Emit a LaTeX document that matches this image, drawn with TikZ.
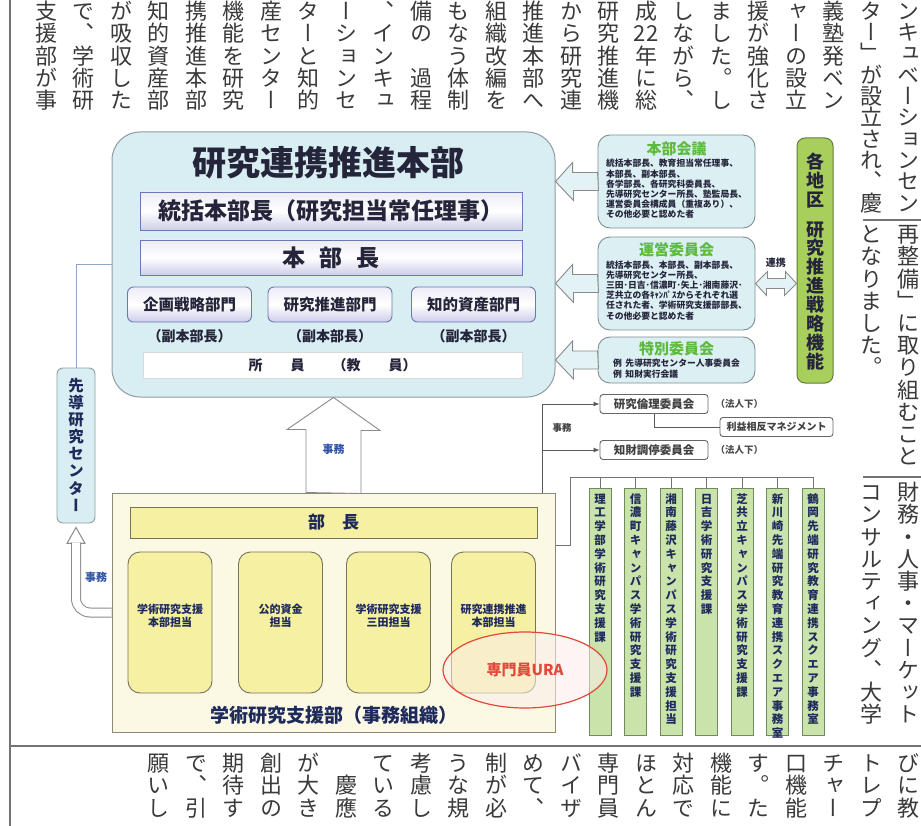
\documentclass[tikz,border=0pt]{standalone}
\usepackage{fontspec}
\setmainfont{Noto Sans CJK JP}
\newfontfamily\tatefont[RawFeature={+vert}]{Noto Sans CJK JP}
\usetikzlibrary{arrows.meta, positioning, shapes.geometric, calc}

\definecolor{inkgray}{HTML}{3A3A3A}
\definecolor{hqfill}{HTML}{D9EEF2}
\definecolor{hqline}{HTML}{8E9CA2}
\definecolor{lavtop}{HTML}{ECEBF8}
\definecolor{lavbot}{HTML}{CDCDEA}
\definecolor{lavline}{HTML}{6C78B4}
\definecolor{barink}{HTML}{24243A}
\definecolor{navy}{HTML}{1E2A5C}
\definecolor{sidefill}{HTML}{DCF0F4}
\definecolor{sideline}{HTML}{7E8E92}
\definecolor{kaigigreen}{HTML}{5CBA3C}
\definecolor{leafgreen}{HTML}{A8CF5C}
\definecolor{leafline}{HTML}{5F7F3A}
\definecolor{cream}{HTML}{FBF9E4}
\definecolor{creamline}{HTML}{8C8A78}
\definecolor{lemon}{HTML}{F6F0A2}
\definecolor{lemonline}{HTML}{76745E}
\definecolor{mintfill}{HTML}{C9E3AA}
\definecolor{mintline}{HTML}{6F8B5C}
\definecolor{jimublue}{HTML}{2F55A4}
\definecolor{urared}{HTML}{E2483A}
\definecolor{arrowfill}{HTML}{E3F2F5}
\definecolor{arrowline}{HTML}{8A8A8A}
\definecolor{linkblue}{HTML}{8EA6C8}

% vertical text: one character per row
\makeatletter
\newcommand\tate[2][1]{%
  \vbox{\offinterlineskip\tatefont
    \@tfor\tate@c:=#2\do{%
      \hbox to 1em{\hss\vrule height \dimexpr0.88em+#1em/2-0.5em\relax
        depth \dimexpr0.12em+#1em/2-0.5em\relax width 0pt\relax\tate@c\hss}}}}
\makeatother

\begin{document}
\begin{tikzpicture}[x=1pt, y=-1pt,
    tatecol/.style={anchor=north, inner sep=0pt, text=inkgray, font=\fontsize{22}{22}\selectfont},
    rulel/.style={draw=black!55, line width=1.1pt},
    hqbox/.style={draw=hqline, fill=hqfill, line width=1pt, rounded corners=28pt},
    lavbar/.style={draw=lavline, line width=.9pt, top color=lavtop, bottom color=lavbot, middle color=white, inner sep=0pt, text=barink, font=\bfseries\fontsize{23}{25}\selectfont},
    deptbox/.style={lavbar, rounded corners=6pt, minimum width=124pt, minimum height=35pt, font=\bfseries\fontsize{15.5}{17}\selectfont},
    fukutext/.style={inner sep=0pt, text=barink, font=\bfseries\fontsize{14}{15}\selectfont},
    sidebox/.style={draw=sideline, fill=sidefill, line width=.9pt, rounded corners=12pt, minimum width=157pt},
    sidetitle/.style={inner sep=0pt, text=kaigigreen, font=\bfseries\fontsize{15}{16}\selectfont},
    sidebody/.style={inner sep=0pt, align=left, text=barink, font=\bfseries\fontsize{8.8}{10.2}\selectfont},
    hollowarr/.style={draw=arrowline, fill=arrowfill, line width=.9pt, line join=miter},
    chikubox/.style={draw=leafline, fill=leafgreen, line width=1pt, rounded corners=8pt, minimum width=36pt, minimum height=245pt},
    chikutext/.style={anchor=north, inner sep=0pt, text=barink, font=\bfseries\fontsize{18}{18}\selectfont},
    sendobox/.style={draw=hqline, fill=hqfill, line width=.9pt, rounded corners=6pt, minimum width=38pt, minimum height=155pt, inner sep=0pt, text=navy, font=\bfseries\fontsize{15.5}{16}\selectfont},
    shienbox/.style={draw=creamline, fill=cream, line width=1pt, minimum width=443pt, minimum height=239pt},
    buchobar/.style={draw=lemonline, fill=lemon, line width=1pt, minimum width=407pt, minimum height=31pt, inner sep=0pt, text=navy, font=\bfseries\fontsize{17}{18}\selectfont},
    tanbox/.style={draw=lemonline, fill=lemon, line width=.9pt, rounded corners=12pt, minimum width=84pt, minimum height=141pt, inner sep=0pt, align=center, text depth=15pt, text=navy, font=\bfseries\fontsize{11}{13}\selectfont},
    jimulabel/.style={inner sep=0pt, text=jimublue, font=\bfseries\fontsize{11}{12}\selectfont},
    hollowshaft/.style={draw=arrowline, double=white, double distance=8pt, line width=1pt, rounded corners=14pt},
    cmtbox/.style={draw=black!60, fill=white, line width=.9pt, rounded corners=3pt, minimum height=19pt, inner sep=3pt, text=black!75, font=\bfseries\fontsize{11.5}{12}\selectfont},
    cmtnote/.style={inner sep=0pt, text=black!70, font=\bfseries\fontsize{9.5}{10}\selectfont},
    cmtline/.style={draw=black!65, line width=.9pt},
    busline/.style={draw=black!55, line width=.9pt},
    gbox/.style={draw=mintline, fill=mintfill, line width=.9pt, minimum width=22pt, minimum height=247pt},
    gtext/.style={anchor=north, inner sep=0pt, text=navy, font=\bfseries\fontsize{11.5}{12}\selectfont},
    uraring/.style={ellipse, draw=urared, line width=1.2pt, fill=urared!10, fill opacity=.55, text opacity=1, minimum width=164pt, minimum height=76pt, text=urared, font=\bfseries\fontsize{15}{16}\selectfont}
]
\useasboundingbox[fill=white] (0,0) rectangle (921,826);

% page rules
\draw[rulel] (10,0) -- (10,826);
\draw[rulel] (10,746) -- (921,746);
\draw[rulel] (863,220) -- (921,220);
\draw[rulel] (863,477) -- (921,477);

% article text above the chart
\node[tatecol] (top0) at (46,0) {\tate[1.01]{支援部が事}};
\node[tatecol] (top1) at (83.5,0) {\tate[1.01]{で、学術研}};
\node[tatecol] (top2) at (121,0) {\tate[1.01]{が吸収した}};
\node[tatecol] (top3) at (158.5,0) {\tate[1.01]{知的資産部}};
\node[tatecol] (top4) at (196,0) {\tate[1.01]{携推進本部}};
\node[tatecol] (top5) at (233.5,0) {\tate[1.01]{機能を研究}};
\node[tatecol] (top6) at (271,0) {\tate[1.01]{産センター}};
\node[tatecol] (top7) at (308.5,0) {\tate[1.01]{ターと知的}};
\node[tatecol] (top8) at (346,0) {\tate[1.01]{ーションセ}};
\node[tatecol] (top9) at (383.5,0) {\tate[1.01]{、インキュ}};
\node[tatecol] (top10) at (421,0) {\tate[1.01]{備の{\null}過程}};
\node[tatecol] (top11) at (458.5,0) {\tate[1.01]{もなう体制}};
\node[tatecol] (top12) at (496,0) {\tate[1.01]{組織改編を}};
\node[tatecol] (top13) at (533.5,0) {\tate[1.01]{推進本部へ}};
\node[tatecol] (top14) at (571,0) {\tate[1.01]{から研究連}};
\node[tatecol] (top15) at (608.5,0) {\tate[1.01]{研究推進機}};
\node[tatecol] (top16) at (646,0) {\tate[1.01]{成{22}年に総}};
\node[tatecol] (top17) at (683.5,0) {\tate[1.01]{しながら、}};
\node[tatecol] (top18) at (721,0) {\tate[1.01]{ました。し}};
\node[tatecol] (top19) at (758.5,0) {\tate[1.01]{援が強化さ}};
\node[tatecol] (top20) at (796,0) {\tate[1.01]{ャーの設立}};
\node[tatecol] (top21) at (833.5,0) {\tate[1.01]{義塾発ベン}};

% article text on the right
\node[tatecol] (r1a) at (908.5,0) {\tate[0.97]{ンキュベーションセン}};
\node[tatecol] (r1b) at (871,0) {\tate[0.97]{ター」が設立され、慶}};
\node[tatecol] (r2a) at (908.5,223) {\tate[1.01]{再整備」に取り組むこと}};
\node[tatecol] (r2b) at (871,223) {\tate[1.01]{となりました。}};
\node[tatecol] (r3a) at (908.5,481) {\tate[1.01]{財務・人事・マーケット}};
\node[tatecol] (r3b) at (871,481) {\tate[1.01]{コンサルティング、大学}};

% article text below the chart
\node[tatecol] (bot3) at (158.5,752) {\tate[1.01]{願いし}};
\node[tatecol] (bot4) at (196,752) {\tate[1.01]{で、引}};
\node[tatecol] (bot5) at (233.5,752) {\tate[1.01]{期待す}};
\node[tatecol] (bot6) at (271,752) {\tate[1.01]{創出の}};
\node[tatecol] (bot7) at (308.5,752) {\tate[1.01]{が大き}};
\node[tatecol] (bot8) at (346,752) {\tate[1.01]{{\null}慶應}};
\node[tatecol] (bot9) at (383.5,752) {\tate[1.01]{ている}};
\node[tatecol] (bot10) at (421,752) {\tate[1.01]{考慮し}};
\node[tatecol] (bot11) at (458.5,752) {\tate[1.01]{うな規}};
\node[tatecol] (bot12) at (496,752) {\tate[1.01]{制が必}};
\node[tatecol] (bot13) at (533.5,752) {\tate[1.01]{めて、}};
\node[tatecol] (bot14) at (571,752) {\tate[1.01]{バイザ}};
\node[tatecol] (bot15) at (608.5,752) {\tate[1.01]{専門員}};
\node[tatecol] (bot16) at (646,752) {\tate[1.01]{ほとん}};
\node[tatecol] (bot17) at (683.5,752) {\tate[1.01]{対応で}};
\node[tatecol] (bot18) at (721,752) {\tate[1.01]{機能に}};
\node[tatecol] (bot19) at (758.5,752) {\tate[1.01]{す。た}};
\node[tatecol] (bot20) at (796,752) {\tate[1.01]{口機能}};
\node[tatecol] (bot21) at (833.5,752) {\tate[1.01]{チャー}};
\node[tatecol] (bot22) at (871,752) {\tate[1.01]{トレプ}};
\node[tatecol] (bot23) at (908.5,752) {\tate[1.01]{びに教}};

% headquarters
\node[hqbox, minimum width=443pt, minimum height=265pt] (hq) at (333.5,264.5) {};
\node[inner sep=0pt, text=barink, font=\bfseries\fontsize{34}{36}\selectfont] (hqT) at (328,163) {研究連携推進本部};
\node[lavbar, minimum width=382pt, minimum height=38pt] (tokatsu) at (331,211) {統括本部長（研究担当常任理事）};
\node[lavbar, minimum width=382pt, minimum height=35pt] (honbucho) at (331,257.5) {本\hspace{.6em}部\hspace{.6em}長};
\node[deptbox] (kikaku) at (189.5,304.5) {企画戦略部門};
\node[deptbox] (suishin) at (330,304.5) {研究推進部門};
\node[deptbox] (chiteki) at (473.5,304.5) {知的資産部門};
\node[fukutext, below=7pt of kikaku] (kikakuF) {（副本部長）};
\node[fukutext, below=7pt of suishin] (suishinF) {（副本部長）};
\node[fukutext, below=7pt of chiteki] (chitekiF) {（副本部長）};
\node[draw=white!85!black, fill=white, minimum width=379pt, minimum height=26pt, inner sep=0pt, text=barink, font=\bfseries\fontsize{14}{15}\selectfont] (shoin) at (332.5,365) {所\hspace{2em}員\hspace{2em}（教\hspace{2em}員）};

% meetings on the right
\node[sidebox, minimum height=93pt] (kaigi) at (676.5,181.5) {};
\node[sidetitle, below=7pt of kaigi.north] (kaigiT) {本部会議};
\node[sidebody, below=3pt of kaigiT] (kaigiB) {統括本部長、教育担当常任理事、\\本部長、副本部長、\\各学部長、各研究科委員長、\\先導研究センター所長、塾監局長、\\運営委員会構成員（重複あり）、\\その他必要と認めた者};
\node[sidebox, minimum height=93pt] (unei) at (676.5,283.5) {};
\node[sidetitle, below=6pt of unei.north] (ueiT) {運営委員会};
\node[sidebody, below=3pt of ueiT] (ueiB) {統括本部長、本部長、副本部長、\\先導研究センター所長、\\三田･日吉･信濃町･矢上･湘南藤沢･\\芝共立の各ｷｬﾝﾊﾟｽからそれぞれ選\\任された者、学術研究支援部部長、\\その他必要と認めた者};
\node[sidebox, minimum height=46pt] (tokubetsu) at (676.5,360) {};
\node[sidetitle, below=5pt of tokubetsu.north] (tokuT) {特別委員会};
\node[sidebody, below=3pt of tokuT] (tokuB) {例\hspace{.4em}先導研究センター人事委員会\\例\hspace{.4em}知財実行会議};

% hollow arrows into the headquarters
\draw[hollowarr] ($(kaigi.west)+(0,-9)$) -- ++(-25,0) -- ++(0,-10) -- (hq.east |- kaigi.west) -- ++(18,19) -- ++(0,-10) -- ++(25,0) -- cycle;
\draw[hollowarr] ($(unei.west)+(0,-9)$) -- ++(-25,0) -- ++(0,-10) -- (hq.east |- unei.west) -- ++(18,19) -- ++(0,-10) -- ++(25,0) -- cycle;
\draw[hollowarr] ($(tokubetsu.west)+(0,-9)$) -- ++(-25,0) -- ++(0,-10) -- (hq.east |- tokubetsu.west) -- ++(18,19) -- ++(0,-10) -- ++(25,0) -- cycle;

% regional strategy
\node[chikubox] (chiku) at (815,260.5) {};
\node[chikutext, below=15pt of chiku.north] (chikuA) {\tate[1.05]{各地区}};
\node[chikutext, below=10pt of chikuA] (chikuB) {\tate[1.05]{研究推進戦略機能}};
\draw[hollowarr] (unei.east) -- ++(12,-12) -- ++(0,7) -- ++(18,0) -- ++(0,-7) -- (chiku.west |- unei.east) -- ++(-12,12) -- ++(0,-7) -- ++(-18,0) -- ++(0,7) -- cycle;
\node[inner sep=0pt, text=barink, font=\bfseries\fontsize{10}{11}\selectfont] (renkeiL) at ($(unei.east)!.5!(chiku.west |- unei.east)+(0,-21)$) {連携};

% leading research center
\node[sendobox] (sendo) at (76,445.5) {\tate[1.1]{先導研究センター}};
\draw[draw=linkblue, line width=1pt] (sendo.north) |- (hq.west);

% office of research support
\node[shienbox] (shien) at (333.5,612.5) {};
\node[buchobar] (bucho) at (333.5,522.5) {部\hspace{1em}長};
\node[tanbox] (tan1) at (170,622.5) {学術研究支援\\本部担当};
\node[tanbox] (tan2) at (280.5,622.5) {公的資金\\担当};
\node[tanbox] (tan3) at (388.5,622.5) {学術研究支援\\三田担当};
\node[tanbox] (tan4) at (493.5,622.5) {研究連携推進\\本部担当};
\node[inner sep=0pt, text=navy, font=\bfseries\fontsize{19}{20}\selectfont, above=8pt of shien.south] (shienL) {学術研究支援部（事務組織）};

% office support arrows
\draw[hollowarr, fill=white] ($(shien.north)+(-27.5,0)$) -- ++(0,-63) -- ++(-19,0) -- (hq.south) -- ++(46.5,33) -- ++(-19,0) -- ++(0,63) -- cycle;
\node[jimulabel] (jimuL) at ($(hq.south)!.55!(shien.north)$) {事務};
\coordinate (btip) at ($(sendo.south)+(0,4)$);
\filldraw[draw=arrowline, fill=white, line width=1pt] ($(btip)+(-9,16)$) -- (btip) -- ($(btip)+(9,16)$) -- cycle;
\draw[hollowshaft] (shien.west) -| ($(btip)+(0,15)$);
\node[jimulabel] (jimuS) at (96,577) {事務};

% committees under the corporation
\node[cmtbox, minimum width=108pt] (rinri) at (654,404) {研究倫理委員会};
\node[cmtnote, right=7pt of rinri] (rinriN) {（法人下）};
\node[cmtbox, minimum width=113pt, font=\bfseries\fontsize{10}{11}\selectfont] (rieki) at (776.5,427) {利益相反マネジメント};
\node[cmtbox, minimum width=108pt] (chizai) at (654,450) {知財調停委員会};
\node[cmtnote, right=7pt of chizai] (chizaiN) {（法人下）};
\coordinate (jm) at ($(shien.north east)+(-13,0)$);
\draw[cmtline, -{Latex[length=6pt,width=5pt]}] (jm) |- (rinri.west);
\draw[cmtline, -{Latex[length=6pt,width=5pt]}] (jm |- chizai.west) -- (chizai.west);
\draw[cmtline] (rinri.south) |- (rieki.west);
\node[inner sep=0pt, text=black!75, font=\bfseries\fontsize{9.5}{10}\selectfont] (jimuR) at (562,428) {事務};

% campus offices
\node[gbox] (g1) at (600,611.5) {};
\node[gbox] (g2) at (635.5,611.5) {};
\node[gbox] (g3) at (671,611.5) {};
\node[gbox] (g4) at (706.5,611.5) {};
\node[gbox] (g5) at (742,611.5) {};
\node[gbox] (g6) at (777.5,611.5) {};
\node[gbox] (g7) at (813,611.5) {};
\node[gtext, below=4pt of g1.north] (g1t) {\tate[1.2]{理工学部学術研究支援課}};
\node[gtext, below=4pt of g2.north] (g2t) {\tate[1.2]{信濃町キャンパス学術研究支援課}};
\node[gtext, below=4pt of g3.north] (g3t) {\tate[1.2]{湘南藤沢キャンパス学術研究支援担当}};
\node[gtext, below=4pt of g4.north] (g4t) {\tate[1.2]{日吉学術研究支援課}};
\node[gtext, below=4pt of g5.north] (g5t) {\tate[1.2]{芝共立キャンパス学術研究支援課}};
\node[gtext, below=4pt of g6.north] (g6t) {\tate[1.2]{新川崎先端研究教育連携スクエア事務室}};
\node[gtext, below=4pt of g7.north] (g7t) {\tate[1.2]{鶴岡先端研究教育連携スクエア事務室}};
\coordinate (busA) at ($(shien.north east)+(0,53)$);
\coordinate (busB) at (570,477);
\draw[busline] (busA) -| (busB) -- (busB -| g7.north);
\draw[busline] (busB -| g1.north) -- (g1.north);
\draw[busline] (busB -| g2.north) -- (g2.north);
\draw[busline] (busB -| g3.north) -- (g3.north);
\draw[busline] (busB -| g4.north) -- (g4.north);
\draw[busline] (busB -| g5.north) -- (g5.north);
\draw[busline] (busB -| g6.north) -- (g6.north);
\draw[busline] (busB -| g7.north) -- (g7.north);

% URA
\node[uraring] (ura) at (525,670) {専門員URA};
\end{tikzpicture}
\end{document}
